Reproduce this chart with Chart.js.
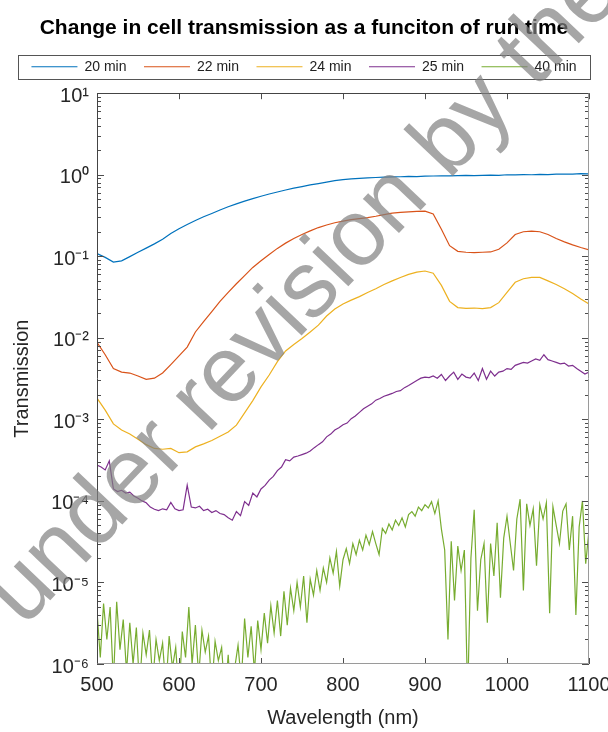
<!DOCTYPE html>
<html>
<head>
<meta charset="utf-8">
<script src="https://cdn.jsdelivr.net/npm/chart.js@4.4.0/dist/chart.umd.min.js"></script>
<style>
  html, body { margin: 0; padding: 0; background: #fff; }
  #wrap { width: 608px; height: 732px; }
</style>
</head>
<body>
<div id="wrap"><canvas id="chart" width="608" height="732"></canvas></div>
<script>
// wavelength sampling grids (nm)
function grid(start, end, step) {
  const out = [];
  for (let w = start; w <= end; w += step) out.push(w);
  return out;
}
const wl10 = grid(500, 1100, 10);
const wl5 = grid(500, 1100, 5);
const wl4 = grid(500, 1100, 4);

const seriesNames = ['20 min', '22 min', '24 min', '25 min', '40 min'];
const seriesColors = ['#0072BD', '#D95319', '#EDB120', '#7E2F8E', '#77AC30'];

// 20 min, every 10 nm
const trans20 = [
  0.108, 0.097, 0.085, 0.088, 0.099, 0.112, 0.126, 0.142, 0.162, 0.19,
  0.218, 0.245, 0.275, 0.305, 0.335, 0.37, 0.405, 0.44, 0.475, 0.51,
  0.545, 0.58, 0.615, 0.65, 0.685, 0.715, 0.75, 0.78, 0.81, 0.845,
  0.87, 0.89, 0.905, 0.915, 0.925, 0.935, 0.94, 0.945, 0.955, 0.95,
  0.96, 0.965, 0.97, 0.968, 0.975, 0.98, 0.978, 0.985, 0.99, 0.985,
  1.0, 0.995, 1.005, 1.0, 1.01, 1.005, 1.015, 1.02, 1.015, 1.03,
  1.025
];

// 22 min, every 10 nm
const trans22 = [
  0.0088, 0.0062, 0.0042, 0.0038, 0.0037, 0.0034, 0.0031, 0.0032, 0.0037, 0.0047,
  0.006, 0.0077, 0.0118, 0.0158, 0.021, 0.028, 0.036, 0.046, 0.058, 0.073,
  0.088, 0.105, 0.125, 0.145, 0.165, 0.185, 0.205, 0.225, 0.242, 0.258,
  0.27, 0.282, 0.29, 0.298, 0.31, 0.325, 0.338, 0.345, 0.35, 0.355,
  0.358, 0.33, 0.215, 0.135, 0.115, 0.112, 0.111, 0.112, 0.113, 0.122,
  0.146, 0.185, 0.2, 0.203, 0.2, 0.185, 0.165, 0.15, 0.138, 0.128,
  0.12
];

// 24 min, every 10 nm
const trans24 = [
  0.00182, 0.0013, 0.00088, 0.00074, 0.00066, 0.00057, 0.00049, 0.00044, 0.00043, 0.00044,
  0.00039, 0.0004, 0.00046, 0.0005, 0.00055, 0.00062, 0.0007, 0.00085, 0.0012, 0.0017,
  0.0025, 0.0035, 0.0051, 0.0069, 0.0083, 0.0098, 0.0118, 0.0143, 0.0185, 0.0225,
  0.026, 0.029, 0.032, 0.036, 0.04, 0.045, 0.05, 0.055, 0.06, 0.064,
  0.066, 0.062, 0.044, 0.028, 0.0235, 0.023, 0.0232, 0.0228, 0.0235, 0.027,
  0.036, 0.048, 0.053, 0.055, 0.055, 0.05, 0.045, 0.04, 0.035, 0.03,
  0.026
];

// 25 min, every 5 nm
const trans25 = [
  2.75e-4, 2.6e-4, 2.4e-4, 3.1e-4, 1.4e-4, 1.3e-4, 1.35e-4, 1.25e-4, 1.28e-4, 1.15e-4,
  1.08e-4, 1.0e-4, 9.5e-5, 8.4e-5, 7.9e-5, 7.6e-5, 8.0e-5, 7.8e-5, 9.6e-5, 8.0e-5,
  7.6e-5, 7.8e-5, 1.56e-4, 8.4e-5, 8.2e-5, 8.6e-5, 7.6e-5, 7.9e-5, 7.2e-5, 7.6e-5,
  7.0e-5, 6.8e-5, 6.2e-5, 5.8e-5, 7.4e-5, 6.6e-5, 9.8e-5, 8.8e-5, 1.25e-4, 1.12e-4,
  1.4e-4, 1.55e-4, 1.8e-4, 2.0e-4, 2.35e-4, 2.6e-4, 3.2e-4, 3.1e-4, 3.45e-4, 3.55e-4,
  3.7e-4, 3.85e-4, 4.1e-4, 4.5e-4, 4.9e-4, 5.3e-4, 6.1e-4, 6.6e-4, 7.4e-4, 7.9e-4,
  8.6e-4, 9.0e-4, 1.02e-3, 1.1e-3, 1.22e-3, 1.35e-3, 1.45e-3, 1.55e-3, 1.72e-3, 1.8e-3,
  1.92e-3, 2.0e-3, 2.08e-3, 2.2e-3, 2.25e-3, 2.45e-3, 2.6e-3, 2.8e-3, 3.0e-3, 3.2e-3,
  3.3e-3, 3.25e-3, 3.4e-3, 3.2e-3, 3.55e-3, 3.0e-3, 3.4e-3, 3.8e-3, 3.1e-3, 3.6e-3,
  3.3e-3, 3.2e-3, 3.7e-3, 3.0e-3, 4.2e-3, 3.1e-3, 3.9e-3, 3.4e-3, 3.8e-3, 3.9e-3,
  4.2e-3, 4.1e-3, 4.6e-3, 4.8e-3, 5.0e-3, 4.9e-3, 5.2e-3, 5.5e-3, 5.3e-3, 6.2e-3,
  5.4e-3, 5.2e-3, 5.0e-3, 4.8e-3, 4.9e-3, 4.5e-3, 4.6e-3, 4.2e-3, 3.9e-3, 3.6e-3,
  3.8e-3
];

// 40 min, every 4 nm (values under 1e-6 fall below the axis)
const trans40 = [
  4.5e-6, 1.2e-6, 5.5e-6, 2.0e-6, 5.0e-6, 6e-7, 5.8e-6, 1.5e-6, 3.5e-6, 8e-7,
  3.2e-6, 1.0e-6, 2.8e-6, 5e-7, 2.4e-6, 1.3e-6, 2.6e-6, 6e-7, 2.0e-6, 1.1e-6,
  1.8e-6, 5e-7, 2.2e-6, 9e-7, 1.6e-6, 4e-7, 2.5e-6, 1.2e-6, 5.0e-6, 1.0e-6,
  3.0e-6, 7e-7, 2.6e-6, 1.4e-6, 2.2e-6, 5e-7, 1.9e-6, 1.1e-6, 1.6e-6, 4e-7,
  1.3e-6, 3e-7, 9e-7, 1.7e-6, 6e-7, 3.6e-6, 1.2e-6, 2.9e-6, 8e-7, 3.4e-6,
  1.5e-6, 4.2e-6, 1.8e-6, 5.2e-6, 2.4e-6, 6.0e-6, 2.2e-6, 7.8e-6, 3.0e-6, 8.5e-6,
  4.5e-6, 1.0e-5, 5.0e-6, 1.2e-5, 3.2e-6, 1.1e-5, 7.0e-6, 1.4e-5, 8.0e-6, 1.5e-5,
  1.0e-5, 2.0e-5, 1.3e-5, 2.4e-5, 9.0e-6, 1.9e-5, 2.6e-5, 1.7e-5, 3.0e-5, 2.2e-5,
  3.3e-5, 2.5e-5, 3.8e-5, 2.9e-5, 4.2e-5, 3.0e-5, 2.2e-5, 4.6e-5, 4.0e-5, 5.2e-5,
  4.4e-5, 5.8e-5, 5.0e-5, 6.2e-5, 4.8e-5, 6.8e-5, 7.4e-5, 6.5e-5, 8.4e-5, 7.6e-5,
  9.0e-5, 8.2e-5, 9.8e-5, 7.0e-5, 1.0e-4, 4.5e-5, 2.5e-5, 2.0e-6, 3.2e-5, 6.0e-6,
  2.8e-5, 1.4e-5, 2.5e-5, 4e-7, 2.0e-5, 7.8e-5, 4.5e-6, 1.9e-5, 3.0e-5, 3.2e-6,
  3.0e-5, 1.2e-5, 5.4e-5, 6.5e-6, 3.5e-5, 6.5e-5, 3.0e-5, 1.4e-5, 6.0e-5, 1.05e-4,
  8.0e-6, 9.2e-5, 5.0e-5, 8.0e-5, 1.6e-5, 9.0e-5, 6.0e-5, 9.5e-5, 4.2e-6, 8.5e-5,
  5.0e-5, 3.0e-5, 7.5e-5, 9.2e-5, 2.5e-5, 6.5e-5, 4.0e-6, 4.8e-5, 1.0e-4, 1.7e-5,
  4.4e-5
];

// y tick positions: 1..9 x 10^n from 1e-6 up to 10
const decades = [-6, -5, -4, -3, -2, -1, 0];
const yTickValues = [];
decades.forEach(e => { for (let m = 1; m <= 9; m++) yTickValues.push(m * Math.pow(10, e)); });
yTickValues.push(10);

const FONT = "'Liberation Sans', Arial, Helvetica, sans-serif";
Chart.defaults.font.family = FONT;
Chart.defaults.color = '#262626';

const supMap = { '-': '\u207B', '0': '\u2070', '1': '\u00B9', '2': '\u00B2', '3': '\u00B3',
  '4': '\u2074', '5': '\u2075', '6': '\u2076', '7': '\u2077', '8': '\u2078', '9': '\u2079' };

function isDecade(v) {
  const e = Math.log10(v);
  return Math.abs(e - Math.round(e)) < 1e-6;
}
function powLabel(v) {
  if (!isDecade(v)) return '';
  return '10' + String(Math.round(Math.log10(v))).split('').map(c => supMap[c]).join('');
}

function points(xs, ys) {
  return xs.map((x, i) => ({ x, y: ys[i] }));
}

const allSeries = [
  points(wl10, trans20),
  points(wl10, trans22),
  points(wl10, trans24),
  points(wl5, trans25),
  points(wl4, trans40)
];

// inward ticks, axes box, legend frame, watermark
const framePlugin = {
  id: 'frame',
  beforeLayout(chart) {
    const lg = chart.legend;
    if (lg && !lg._padded) {
      const fit = lg.fit;
      lg.fit = function () {
        fit.call(this);
        this.height += 9.5;
      };
      lg._padded = true;
    }
  },
  afterDraw(chart) {
    const { ctx, chartArea: a, scales: { x, y } } = chart;
    const line = (x1, y1, x2, y2) => {
      ctx.beginPath(); ctx.moveTo(x1, y1); ctx.lineTo(x2, y2); ctx.stroke();
    };
    ctx.save();
    ctx.lineWidth = 1;

    ctx.strokeStyle = '#4d4d4d';
    y.ticks.forEach(t => {
      const py = Math.round(y.getPixelForValue(t.value)) + 0.5;
      const len = isDecade(t.value) ? 7 : 4;
      line(a.left, py, a.left + len, py);
      line(a.right, py, a.right - len, py);
    });
    x.ticks.forEach(t => {
      const px = Math.round(x.getPixelForValue(t.value)) + 0.5;
      line(px, a.bottom, px, a.bottom - 6);
      line(px, a.top, px, a.top + 6);
    });

    const l = Math.round(a.left) + 0.5, r = Math.round(a.right) - 0.5;
    const t = Math.round(a.top) + 0.5, b = Math.round(a.bottom) - 0.5;
    ctx.strokeStyle = '#444';
    line(l, t, r, t);
    line(l, t, l, b);
    ctx.strokeStyle = '#9a9a9a';
    line(l, b, r, b);
    line(r, t, r, b);

    // legend frame around the items
    const hb = chart.legend.legendHitBoxes;
    if (hb && hb.length) {
      const x0 = Math.min(...hb.map(h => h.left)) - 13;
      const x1 = Math.max(...hb.map(h => h.left + h.width)) + 14;
      const y0 = Math.min(...hb.map(h => h.top)) - 5;
      const y1 = Math.max(...hb.map(h => h.top + h.height)) + 5;
      ctx.strokeStyle = '#555';
      ctx.strokeRect(Math.round(x0) + 0.5, Math.round(y0) + 0.5, Math.round(x1 - x0), Math.round(y1 - y0));
    }

    // watermark
    ctx.translate(24, 628);
    ctx.rotate(-46.5 * Math.PI / 180);
    ctx.font = '94px ' + FONT;
    ctx.fillStyle = 'rgba(128, 128, 128, 0.7)';
    ctx.textBaseline = 'alphabetic';
    ctx.textAlign = 'left';
    ctx.fillText('under revision by the journal', 0, 0);
    ctx.restore();
  }
};

new Chart(document.getElementById('chart'), {
  type: 'line',
  data: {
    datasets: seriesNames.map((name, i) => ({
      label: name,
      data: allSeries[i],
      borderColor: seriesColors[i],
      backgroundColor: seriesColors[i],
      borderWidth: 1.2,
      pointRadius: 0,
      tension: 0,
      fill: false
    }))
  },
  options: {
    responsive: false,
    devicePixelRatio: 1,
    animation: false,
    events: [],
    layout: { padding: { top: 0, left: 0, right: 0, bottom: 0 } },
    scales: {
      x: {
        type: 'linear',
        min: 500,
        max: 1100,
        ticks: { stepSize: 100, padding: 9, maxRotation: 0, autoSkip: false, color: '#262626', font: { size: 20 }, callback: v => String(v) },
        grid: { display: false, drawTicks: false },
        border: { display: false },
        title: { display: true, text: 'Wavelength (nm)', color: '#262626', font: { size: 20 }, padding: { top: 0, bottom: 2 } },
        afterFit(s) { s.height = 68; s.paddingLeft = 0; s.paddingRight = 19; }
      },
      y: {
        type: 'logarithmic',
        min: 1e-6,
        max: 10,
        afterBuildTicks(s) { s.ticks = yTickValues.map(v => ({ value: v, major: isDecade(v) })); },
        ticks: { autoSkip: false, padding: 8, labelOffset: 3, color: '#262626', font: { size: 20 }, callback: v => powLabel(v) },
        grid: { display: false, drawTicks: false },
        border: { display: false },
        title: { display: true, text: 'Transmission', color: '#262626', font: { size: 20 }, padding: { top: 10, bottom: 0 } },
        afterFit(s) { s.width = 97; s.paddingTop = 0; s.paddingBottom = 0; }
      }
    },
    plugins: {
      title: {
        display: true,
        text: 'Change in cell transmission as a funciton of run time',
        color: '#000',
        font: { size: 21, weight: 'bold' },
        padding: { top: 16, bottom: 1 }
      },
      legend: {
        display: true,
        position: 'top',
        labels: {
          boxWidth: 46,
          boxHeight: 1,
          padding: 17.5,
          color: '#222',
          font: { size: 14 },
          generateLabels(chart) {
            return Chart.defaults.plugins.legend.labels.generateLabels(chart)
              .map(item => Object.assign(item, { lineWidth: 0 }));
          }
        }
      },
      tooltip: { enabled: false }
    }
  },
  plugins: [framePlugin]
});
</script>
</body>
</html>
